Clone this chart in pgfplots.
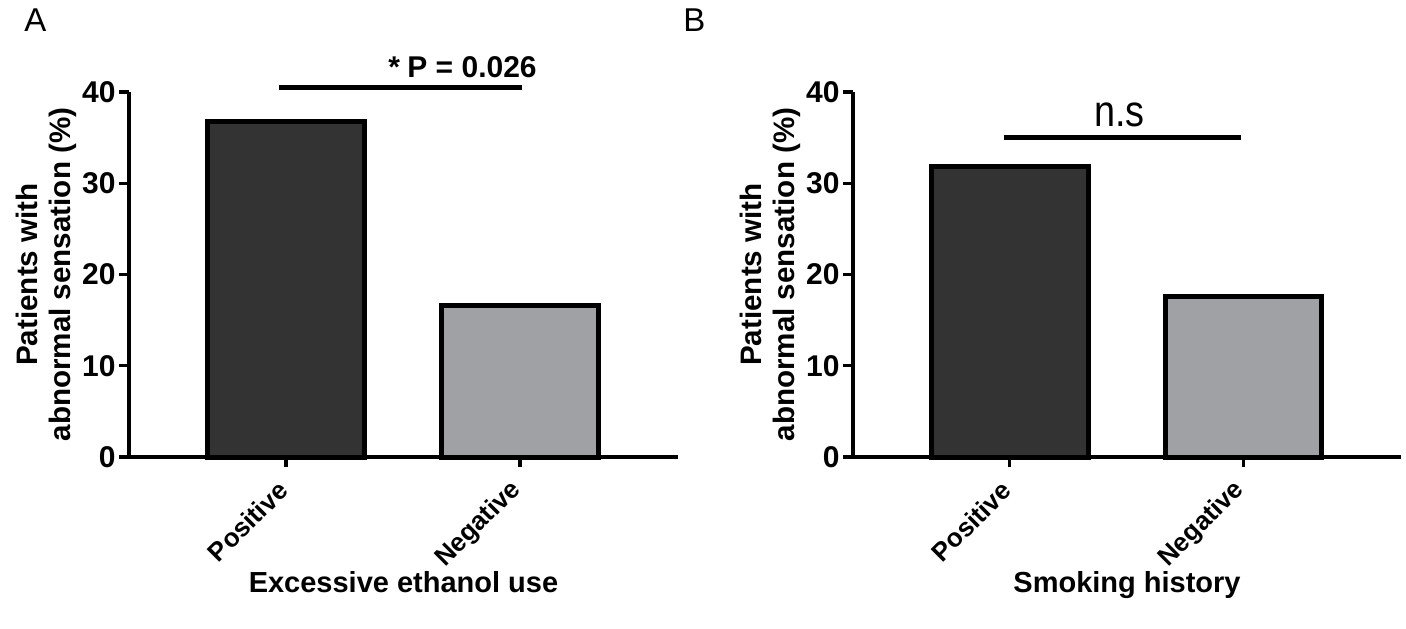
\documentclass[border=0pt]{standalone}
\usepackage{fontspec}
\setmainfont{Liberation Sans}
\newfontfamily\nsfont[FakeStretch=0.86]{Liberation Sans}
\usepackage{pgfplots}
\pgfplotsset{compat=1.18}
\definecolor{darkbar}{RGB}{51,51,51}
\definecolor{lightbar}{RGB}{160,161,164}
\pgfplotsset{
  panel/.style={
    scale only axis, width=274.5pt, height=182.5pt,
    anchor=south west,
    xmin=-0.671, xmax=1.675, ymin=0, ymax=40,
    axis x line=bottom, axis y line=left,
    axis line style={-, line width=1.6pt, black},
    x axis line style={-}, y axis line style={-},
    major tick style={line width=1.6pt, black},
    tick align=outside, major tick length=5pt,
    ytick={0,10,20,30,40}, xtick={0,1}, xticklabels={Positive,Negative},
    /pgf/number format/assume math mode=true,
    yticklabel style={font=\bfseries\fontsize{15}{15}\selectfont, inner sep=1.5pt},
    xticklabel style={yshift=-8pt, rotate=45, anchor=east, inner sep=2pt, font=\bfseries\fontsize{13}{13}\selectfont},
    ylabel style={at={(axis description cs:-0.151,0.5)}, anchor=center, align=center, font=\bfseries\fontsize{14.8}{16.5}\selectfont},
    xlabel style={at={(axis description cs:0.5,-0.37)}, anchor=base, font=\bfseries\fontsize{14.5}{16.5}\selectfont},
    ylabel={Patients with\\abnormal sensation (\%)},
    clip=false,
    ybar, bar width=0.67,
  }
}
\begin{document}
\begin{tikzpicture}
\path[use as bounding box] (0,0) rectangle (703pt,314pt);
\node[anchor=base west, font=\fontsize{16.5}{16.5}\selectfont, inner sep=0pt] at (12pt,298pt) {A};
\node[anchor=base west, font=\fontsize{16.5}{16.5}\selectfont, inner sep=0pt] at (341.5pt,298pt) {B};
% Panel A
\begin{axis}[panel, at={(64.5pt,85.5pt)}, xlabel={Excessive ethanol use}]
\addplot[fill=darkbar, draw=black, line width=2.5pt, bar shift=0pt] coordinates {(0,36.8)};
\addplot[fill=lightbar, draw=black, line width=2.5pt, bar shift=0pt] coordinates {(1,16.6)};
\addplot[sharp plot, no markers, line width=2.5pt, black, forget plot] coordinates {(-0.03,40.5) (1.01,40.5)};
\node[anchor=base, font=\bfseries\fontsize{15}{15}\selectfont] at (axis cs:0.754,41.6) {*\hspace{0.25em}P = 0.026};
\end{axis}
% Panel B
\begin{axis}[panel, at={(426.5pt,85.5pt)}, width=274pt, xmax=1.675, xlabel={Smoking history}]
\addplot[fill=darkbar, draw=black, line width=2.5pt, bar shift=0pt] coordinates {(0,31.8)};
\addplot[fill=lightbar, draw=black, line width=2.5pt, bar shift=0pt] coordinates {(1,17.6)};
\addplot[sharp plot, no markers, line width=2.5pt, black, forget plot] coordinates {(-0.026,35.0) (0.99,35.0)};
\node[anchor=base, font=\nsfont\fontsize{22}{22}\selectfont] at (axis cs:0.47,36.2) {n.s};
\end{axis}
\end{tikzpicture}
\end{document}
